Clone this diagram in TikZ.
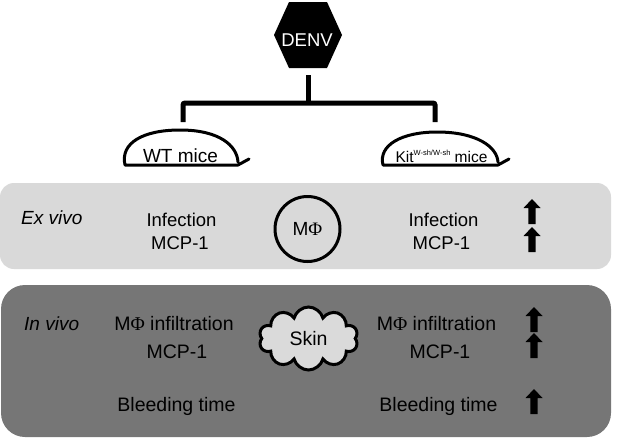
\documentclass[tikz,border=0pt]{standalone}
\usepackage{fontspec}
\setmainfont{Liberation Sans}
\newfontfamily\serifphi{Liberation Serif}
\usetikzlibrary{shapes.symbols}
\definecolor{lightpanel}{RGB}{217,217,217}
\definecolor{darkpanel}{RGB}{118,118,118}
\definecolor{cloudfill}{RGB}{218,218,218}
\begin{document}
\begin{tikzpicture}[x=1pt,y=-1pt,
  txt/.style={anchor=base, font=\fontsize{18.5}{22}\selectfont, inner sep=0},
  txtb/.style={anchor=base, font=\fontsize{19.5}{22}\selectfont, inner sep=0},
  lbl/.style={anchor=base west, font=\fontsize{19}{22}\selectfont\itshape, inner sep=0},
  panel/.style={inner sep=0, draw=none},
  conn/.style={line width=5pt},
  mouse/.style={line width=3pt, line join=round, line cap=round, fill=white},
  uparr/.pic={\fill (-3.7,0) -- (-3.7,-16) -- (-8.5,-16) -- (0,-25) -- (8.5,-16) -- (3.7,-16) -- (3.7,0) -- cycle;}
]
\useasboundingbox (0,0) rectangle (617,439);
% panels
\node[panel, fill=lightpanel, rounded corners=14pt, minimum width=611pt, minimum height=86pt] (exv) at (305.5,226) {};
\node[panel, fill=darkpanel, rounded corners=24pt, minimum width=610pt, minimum height=152pt] (inv) at (306,361) {};
% DENV hexagon
\fill (289,2) -- (327,2) -- (342,35) -- (327,68) -- (289,68) -- (274,35) -- cycle;
\node[anchor=base, inner sep=0, text=white, font=\fontsize{18.5}{20}\selectfont] (denv) at (307,46) {DENV};
\coordinate (hexb) at (308,75);
\coordinate (split) at (308,103);
\coordinate (wtt) at (183,122);
\coordinate (kitt) at (435,122);
\draw[conn] (hexb) -- (split);
\draw[conn, rounded corners=2pt] (wtt) -- (183,103) -- (435,103) -- (kitt);
% mice
\draw[mouse] (249,159) -- (238,165) -- (125,165) .. controls (120,143) and (143,130) .. (180,130) .. controls (220,130) and (237,146) .. (238,162);
\node[anchor=base, inner sep=0, font=\fontsize{19}{20}\selectfont] (wt) at (180.5,162) {WT mice};
\draw[mouse] (509,159) -- (498,165) -- (383,165) .. controls (378,145) and (402,132) .. (437,132) .. controls (477,132) and (497,147) .. (498,162);
\node[anchor=base, inner sep=0, font=\fontsize{15.5}{18}\selectfont] (kit) at (441.5,162) {Kit\raisebox{6.5pt}{\fontsize{7.5}{9}\selectfont W-sh/W-sh} mice};
% ex vivo
\node[lbl] (ex) at (21,224) {Ex vivo};
\node[txt] (inf1) at (181.5,226) {Infection};
\node[txt] (mcp1) at (180,249) {MCP-1};
\node[draw, line width=3pt, circle, minimum size=65pt, inner sep=0, font=\fontsize{19}{20}\selectfont] (mphi) at (307.5,229) {M{\serifphi Φ}};
\node[txt] (inf2) at (443.5,226) {Infection};
\node[txt] (mcp2) at (441.5,249) {MCP-1};
\pic at (532,224) {uparr};
\pic at (532,252) {uparr};
% in vivo
\node[lbl] (invl) at (24,330) {In vivo};
\node[txtb] (mi1) at (174,330) {M{\serifphi Φ} infiltration};
\node[txtb] (mcp3) at (177,358) {MCP-1};
\node[txtb] (bt1) at (176.5,411) {Bleeding time};
\node[cloud, cloud puffs=10, aspect=1.6, draw, line width=3pt, fill=cloudfill, minimum width=99pt, minimum height=63pt, inner sep=0, font=\fontsize{19.5}{22}\selectfont] (skin) at (308.5,338.5) {Skin};
\node[txtb] (mi2) at (436.5,330) {M{\serifphi Φ} infiltration};
\node[txtb] (mcp4) at (440,358) {MCP-1};
\node[txtb] (bt2) at (438.5,411) {Bleeding time};
\pic at (534,332) {uparr};
\pic at (534,358) {uparr};
\pic at (534,414) {uparr};
\end{tikzpicture}
\end{document}
